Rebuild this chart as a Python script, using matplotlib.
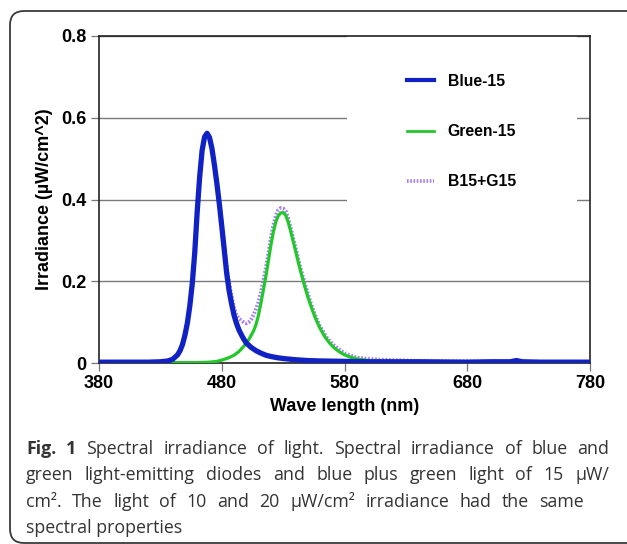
import numpy as np
import matplotlib
matplotlib.use("Agg")
import matplotlib.pyplot as plt
from matplotlib.patches import FancyBboxPatch, Rectangle
from matplotlib.transforms import IdentityTransform

# spectra (wavelength in nm, irradiance in uW/cm^2)
blue_nm = [380, 400, 420, 430, 436, 440, 444, 446, 448, 450, 452, 454, 456, 458, 460,
           462, 464, 466, 468, 470, 472, 474, 476, 478, 480, 482, 484, 486, 488, 490,
           492, 494, 496, 498, 500, 504, 508, 512, 516, 520, 525, 530, 540, 550, 560,
           580, 600, 640, 680, 700, 715, 720, 725, 740, 760, 780]
blue_val = [0.002, 0.002, 0.002, 0.003, 0.005, 0.009, 0.02, 0.03, 0.045, 0.068, 0.098,
            0.14, 0.195, 0.27, 0.37, 0.455, 0.52, 0.553, 0.562, 0.552, 0.525, 0.485,
            0.44, 0.39, 0.335, 0.278, 0.22, 0.177, 0.145, 0.117, 0.097, 0.081, 0.069,
            0.058, 0.049, 0.038, 0.03, 0.024, 0.019, 0.016, 0.013, 0.011, 0.008, 0.006,
            0.005, 0.004, 0.003, 0.003, 0.002, 0.003, 0.003, 0.006, 0.003, 0.002, 0.002,
            0.002]

green_nm = [380, 440, 460, 470, 476, 480, 485, 490, 494, 498, 502, 506, 508, 510, 512,
            514, 516, 518, 520, 522, 524, 526, 528, 530, 532, 534, 536, 538, 540, 542,
            544, 546, 548, 550, 552, 554, 556, 558, 560, 564, 568, 572, 576, 580, 585,
            590, 600, 620, 640, 700, 780]
green_val = [0.001, 0.001, 0.001, 0.002, 0.004, 0.007, 0.012, 0.019, 0.028, 0.041,
             0.057, 0.079, 0.095, 0.118, 0.148, 0.18, 0.213, 0.25, 0.288, 0.32, 0.345,
             0.36, 0.367, 0.368, 0.362, 0.346, 0.324, 0.3, 0.276, 0.251, 0.227, 0.205,
             0.183, 0.163, 0.145, 0.128, 0.112, 0.098, 0.085, 0.064, 0.048, 0.036, 0.027,
             0.02, 0.014, 0.01, 0.006, 0.003, 0.002, 0.001, 0.001]

mix_nm = [478, 480, 484, 488, 490, 492, 494, 496, 498, 500, 502, 504, 506, 508, 510,
          512, 514, 516, 518, 520, 522, 524, 526, 528, 530, 532, 534, 536, 538, 540,
          544, 548, 552, 556, 560, 566, 572, 580, 590, 600, 610, 620, 640, 660, 700,
          740, 780]
mix_val = [0.392, 0.342, 0.232, 0.163, 0.136, 0.116, 0.109, 0.104, 0.099, 0.097, 0.1,
           0.107, 0.118, 0.133, 0.15, 0.175, 0.203, 0.234, 0.268, 0.306, 0.337, 0.36,
           0.374, 0.379, 0.378, 0.372, 0.355, 0.332, 0.308, 0.283, 0.234, 0.191, 0.151,
           0.117, 0.09, 0.06, 0.041, 0.024, 0.013, 0.01, 0.008, 0.007, 0.005, 0.004,
           0.004, 0.003, 0.003]

x_ticks = [380, 480, 580, 680, 780]
y_ticks = [0, 0.2, 0.4, 0.6, 0.8]
y_ticklabels = ["0", "0.2", "0.4", "0.6", "0.8"]

caption_lines = [
    [("Fig.", "bold"), ("1", "bold"), ("Spectral", "normal"), ("irradiance", "normal"),
     ("of", "normal"), ("light.", "normal"), ("Spectral", "normal"),
     ("irradiance", "normal"), ("of", "normal"), ("blue", "normal"), ("and", "normal")],
    [(w, "normal") for w in "green light-emitting diodes and blue plus green light of 15 \u00b5W/".split()],
    [(w, "normal") for w in "cm\u00b2. The light of 10 and 20 \u00b5W/cm\u00b2 irradiance had the same".split()],
    "spectral properties",
]

W, H = 627, 544
fig = plt.figure(figsize=(W / 100, H / 100), dpi=100)
ax = fig.add_axes([99 / W, 1 - 363 / H, (590 - 99) / W, (363 - 36) / H])

chart_font = "Liberation Sans"

ax.plot(mix_nm, mix_val, color="#a57cf5", lw=2.8, ls=(0, (0.45, 0.45)),
        label="B15+G15", zorder=3)
ax.plot(green_nm, green_val, color="#22c82a", lw=2.3, label="Green-15", zorder=4)
ax.plot(blue_nm, blue_val, color="#1022c4", lw=3.8, label="Blue-15", zorder=5)

ax.set_xlim(380, 780)
ax.set_ylim(0, 0.8)
ax.set_xticks(x_ticks)
ax.set_yticks(y_ticks)
ax.set_yticklabels(y_ticklabels)
ax.grid(axis="y", color="#7a7a7a", lw=1.0)
ax.set_axisbelow(True)
ax.tick_params(axis="both", direction="out", length=6, width=0.9, color="#777777",
               pad=3, labelsize=13)
for lab in ax.get_xticklabels() + ax.get_yticklabels():
    lab.set_fontfamily(chart_font)
    lab.set_fontweight("bold")
for sp in ax.spines.values():
    sp.set_linewidth(1.2)
    sp.set_color("#222222")

ax.set_xlabel("Wave length (nm)", fontsize=13, fontweight="bold",
              fontfamily=chart_font, labelpad=4)
ax.set_ylabel("Irradiance (\u00b5W/cm^2)", fontsize=13, fontweight="bold",
              fontfamily=chart_font, labelpad=6)

# white panel behind the legend hides part of the grid
ax.add_patch(Rectangle(((347 - 99) / 491, 0.375), (577 - 347) / 491, 0.625,
                       transform=ax.transAxes, facecolor="white", edgecolor="none",
                       zorder=1))

handles, labels = ax.get_legend_handles_labels()
order = [2, 1, 0]
leg = ax.legend([handles[i] for i in order], [labels[i] for i in order],
                loc="upper left", bbox_to_anchor=(399 / W, 1 - 66 / H),
                bbox_transform=fig.transFigure, frameon=False, borderpad=0,
                handlelength=1.75, handletextpad=0.85, labelspacing=2.25,
                prop={"family": chart_font, "weight": "bold", "size": 11.3})
for hl, w in zip(leg.get_lines(), [3.0, 2.0, 2.6]):
    hl.set_linewidth(w)

# rounded frame round the figure and caption
fig.add_artist(FancyBboxPatch((10, 1), 660, 532,
                              boxstyle="round,pad=0,rounding_size=14",
                              transform=IdentityTransform(), fill=False,
                              edgecolor="#3a3a3a", lw=1.3))

cap_font = "Open Sans"
cap_size = 12.8
cap_color = "#333333"
baselines = [454, 480, 507, 533]
right_edges = [609, 609, 584, None]
x_left = 26
renderer = fig.canvas.get_renderer()

for line, yb, x_right in zip(caption_lines, baselines, right_edges):
    y = 1 - yb / H
    if isinstance(line, str):
        fig.text(x_left / W, y, line, fontsize=cap_size, family=cap_font,
                 color=cap_color, va="baseline")
        continue
    texts = [fig.text(0, y, w, fontsize=cap_size, family=cap_font, weight=wt,
                      color=cap_color, va="baseline") for w, wt in line]
    widths = [t.get_window_extent(renderer).width for t in texts]
    gap = (x_right - x_left - sum(widths)) / (len(texts) - 1)
    xpos = x_left
    for t, wd in zip(texts, widths):
        t.set_x(xpos / W)
        xpos += wd + gap

fig.savefig("out.png", dpi=100)
